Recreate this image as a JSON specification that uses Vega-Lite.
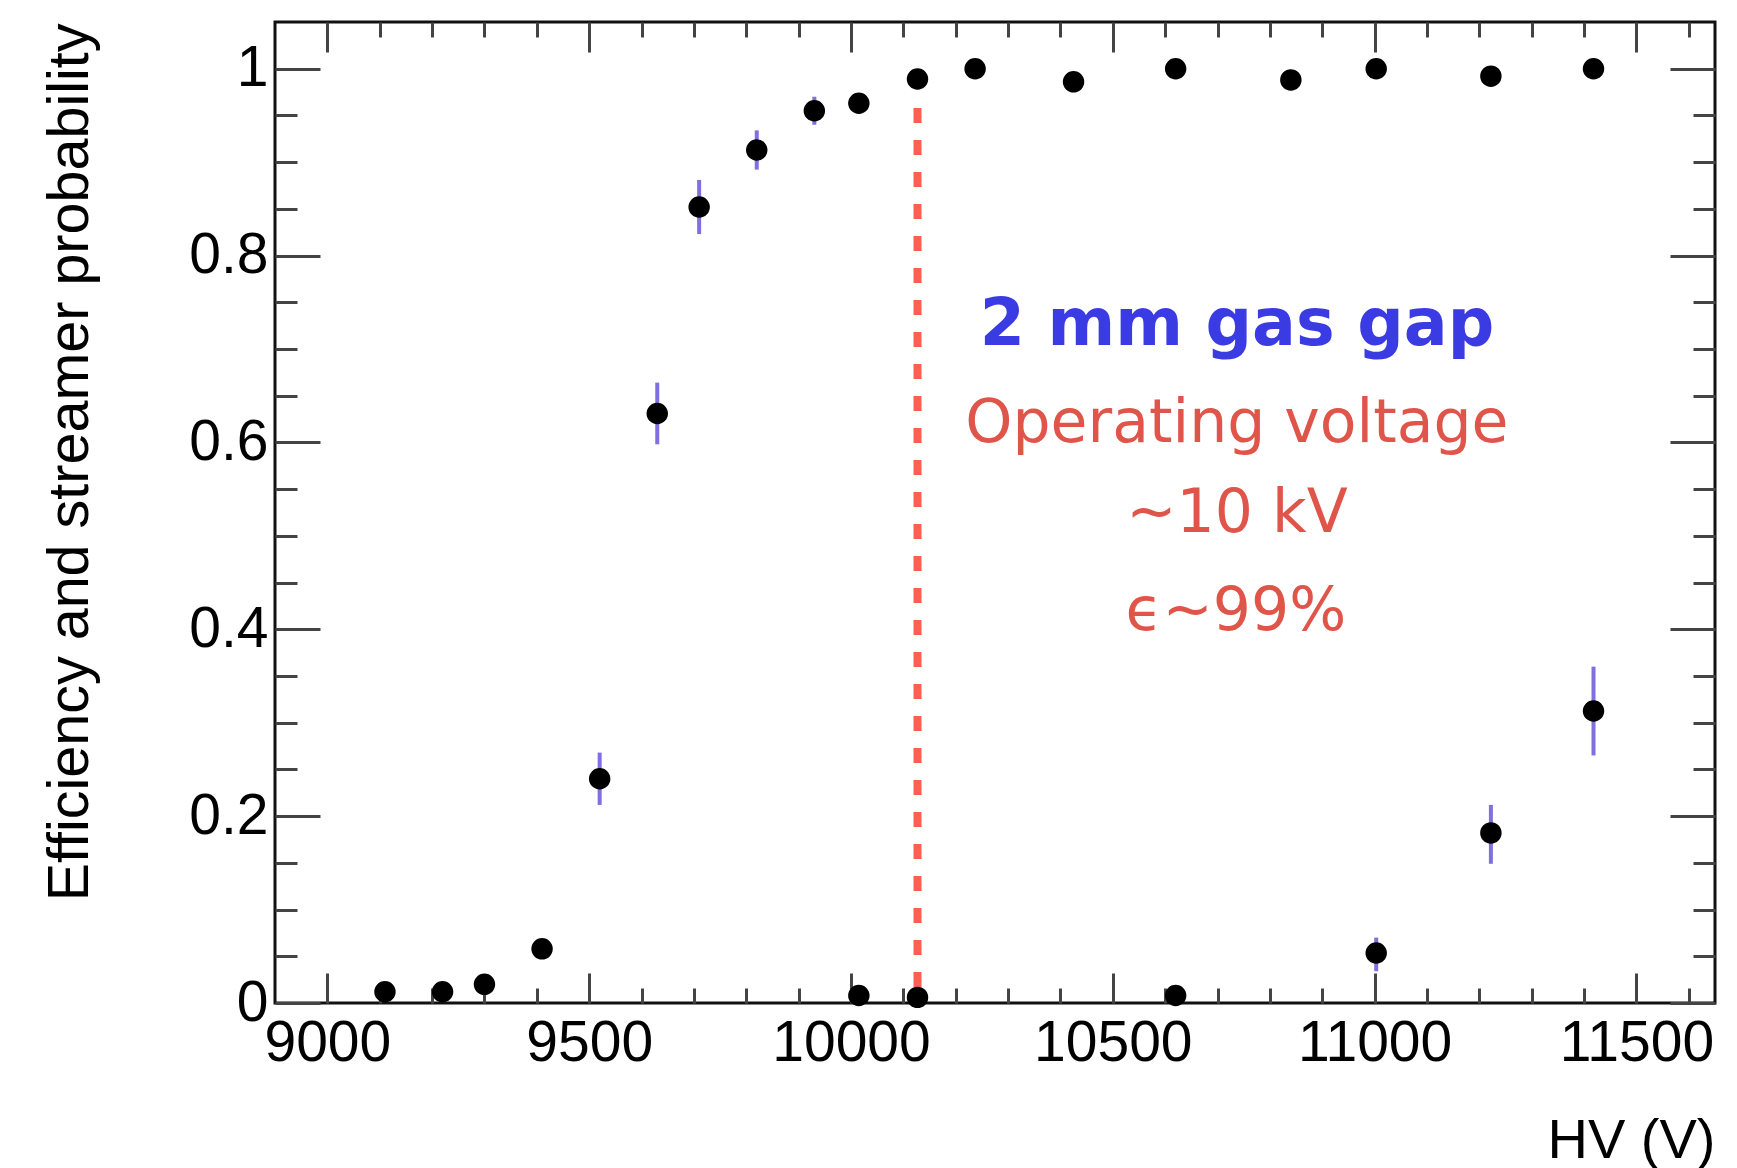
{
  "$schema": "https://vega.github.io/schema/vega-lite/v6.json",
  "width": 1440,
  "height": 981,
  "autosize": {"type": "none"},
  "padding": {"left": 275, "top": 22, "right": 22, "bottom": 165},
  "background": "white",
  "config": {
    "view": {"stroke": "#111111", "strokeWidth": 3},
    "axis": {"grid": false, "domain": false}
  },
  "datasets": {
    "points": [
      {"hv": 9110, "p": 0.012, "lo": null, "hi": null},
      {"hv": 9220, "p": 0.012, "lo": null, "hi": null},
      {"hv": 9300, "p": 0.020, "lo": null, "hi": null},
      {"hv": 9410, "p": 0.058, "lo": null, "hi": null},
      {"hv": 9520, "p": 0.240, "lo": 0.212, "hi": 0.268},
      {"hv": 9630, "p": 0.631, "lo": 0.598, "hi": 0.664},
      {"hv": 9710, "p": 0.852, "lo": 0.823, "hi": 0.881},
      {"hv": 9820, "p": 0.913, "lo": 0.892, "hi": 0.934},
      {"hv": 9930, "p": 0.955, "lo": 0.940, "hi": 0.970},
      {"hv": 10015, "p": 0.963, "lo": 0.955, "hi": 0.972},
      {"hv": 10127, "p": 0.989, "lo": null, "hi": null},
      {"hv": 10237, "p": 1.0, "lo": null, "hi": null},
      {"hv": 10425, "p": 0.986, "lo": null, "hi": null},
      {"hv": 10620, "p": 1.0, "lo": null, "hi": null},
      {"hv": 10840, "p": 0.988, "lo": null, "hi": null},
      {"hv": 11003, "p": 1.0, "lo": null, "hi": null},
      {"hv": 11222, "p": 0.992, "lo": null, "hi": null},
      {"hv": 11418, "p": 1.0, "lo": null, "hi": null},
      {"hv": 10015, "p": 0.008, "lo": null, "hi": null},
      {"hv": 10127, "p": 0.006, "lo": null, "hi": null},
      {"hv": 10620, "p": 0.008, "lo": null, "hi": null},
      {"hv": 11003, "p": 0.0535, "lo": 0.034, "hi": 0.070},
      {"hv": 11222, "p": 0.182, "lo": 0.149, "hi": 0.212},
      {"hv": 11418, "p": 0.3125, "lo": 0.265, "hi": 0.360}
    ],
    "vline": [{"hv": 10127, "top": 0.958, "bottom": 0}],
    "title": [{"hv": 10737, "p": 0.704, "label": "2 mm gas gap"}],
    "notes": [
      {"hv": 10737, "p": 0.600, "label": "Operating voltage"},
      {"hv": 10737, "p": 0.504, "label": "~10 kV"},
      {"hv": 10735, "p": 0.399, "label": "ϵ~99%"}
    ]
  },
  "layer": [
    {
      "data": {"name": "points"},
      "mark": {"type": "rule", "stroke": "#7F6FE0", "strokeWidth": 4},
      "encoding": {
        "x": {
          "field": "hv", "type": "quantitative",
          "scale": {"domain": [8900, 11650], "nice": false, "zero": false},
          "axis": {
            "orient": "bottom",
            "title": "HV (V)",
            "values": [9000,9100,9200,9300,9400,9500,9600,9700,9800,9900,10000,10100,10200,10300,10400,10500,10600,10700,10800,10900,11000,11100,11200,11300,11400,11500,11600],
            "tickSize": {"condition": {"test": "datum.value % 500 === 0", "value": -30}, "value": -15},
            "tickColor": "#444444",
            "tickWidth": 3,
            "format": "d",
            "labelExpr": "datum.value % 500 === 0 ? datum.label : ''",
            "labelFont": "Liberation Sans",
            "labelFontSize": 57,
            "labelColor": "#000000",
            "labelBaseline": "alphabetic",
            "labelPadding": 87,
            "labelFlush": false,
            "labelOverlap": false,
            "titleFont": "Liberation Sans",
            "titleFontSize": 56,
            "titleFontWeight": "normal",
            "titleColor": "#000000",
            "titleX": 1440,
            "titleY": 154,
            "titleAlign": "right",
            "titleBaseline": "alphabetic"
          }
        },
        "y": {
          "field": "lo", "type": "quantitative",
          "scale": {"domain": [0, 1.05], "nice": false, "zero": false},
          "axis": {
            "orient": "left",
            "title": "Efficiency and streamer probability",
            "values": [0,0.05,0.1,0.15,0.2,0.25,0.3,0.35,0.4,0.45,0.5,0.55,0.6,0.65,0.7,0.75,0.8,0.85,0.9,0.95,1],
            "tickSize": {"condition": {"test": "abs(datum.value*5 - round(datum.value*5)) < 0.001", "value": -45}, "value": -22},
            "tickColor": "#444444",
            "tickWidth": 3,
            "labelExpr": "abs(datum.value*5 - round(datum.value*5)) < 0.001 ? format(datum.value, '~g') : ''",
            "labelFont": "Liberation Sans",
            "labelFontSize": 57,
            "labelColor": "#000000",
            "labelAlign": "right",
            "labelBaseline": "middle",
            "labelPadding": 52,
            "labelFlush": false,
            "labelOverlap": false,
            "titleFont": "Liberation Sans",
            "titleFontSize": 57.5,
            "titleFontWeight": "normal",
            "titleColor": "#000000",
            "titleAngle": 270,
            "titleX": -188,
            "titleY": 1,
            "titleAlign": "right",
            "titleBaseline": "alphabetic"
          }
        },
        "y2": {"field": "hi"}
      }
    },
    {
      "data": {"name": "vline"},
      "mark": {"type": "rule", "stroke": "#FF5E55", "strokeWidth": 8, "strokeDash": [15, 17]},
      "encoding": {
        "x": {"field": "hv", "type": "quantitative", "scale": {"domain": [8900, 11650], "nice": false, "zero": false}, "axis": null},
        "y": {"field": "top", "type": "quantitative", "scale": {"domain": [0, 1.05], "nice": false, "zero": false}, "axis": null},
        "y2": {"field": "bottom"}
      }
    },
    {
      "data": {"name": "points"},
      "mark": {"type": "circle", "color": "#000000", "opacity": 1, "size": 460},
      "encoding": {
        "x": {
          "field": "hv", "type": "quantitative",
          "scale": {"domain": [8900, 11650], "nice": false, "zero": false},
          "axis": {
            "orient": "top",
            "title": null,
            "labels": false,
            "values": [9000,9100,9200,9300,9400,9500,9600,9700,9800,9900,10000,10100,10200,10300,10400,10500,10600,10700,10800,10900,11000,11100,11200,11300,11400,11500,11600],
            "tickSize": {"condition": {"test": "datum.value % 500 === 0", "value": -30}, "value": -15},
            "tickColor": "#444444",
            "tickWidth": 3
          }
        },
        "y": {
          "field": "p", "type": "quantitative",
          "scale": {"domain": [0, 1.05], "nice": false, "zero": false},
          "axis": {
            "orient": "right",
            "title": null,
            "labels": false,
            "values": [0,0.05,0.1,0.15,0.2,0.25,0.3,0.35,0.4,0.45,0.5,0.55,0.6,0.65,0.7,0.75,0.8,0.85,0.9,0.95,1],
            "tickSize": {"condition": {"test": "abs(datum.value*5 - round(datum.value*5)) < 0.001", "value": -45}, "value": -22},
            "tickColor": "#444444",
            "tickWidth": 3
          }
        }
      }
    },
    {
      "data": {"name": "title"},
      "mark": {"type": "text", "font": "DejaVu Sans", "fontSize": 65, "fontWeight": "bold", "fill": "#3B3BE3", "align": "center", "baseline": "alphabetic"},
      "encoding": {
        "x": {"field": "hv", "type": "quantitative", "scale": {"domain": [8900, 11650], "nice": false, "zero": false}, "axis": null},
        "y": {"field": "p", "type": "quantitative", "scale": {"domain": [0, 1.05], "nice": false, "zero": false}, "axis": null},
        "text": {"field": "label"}
      }
    },
    {
      "data": {"name": "notes"},
      "mark": {"type": "text", "font": "DejaVu Sans", "fontSize": 60, "fontWeight": "normal", "fill": "#E0554A", "align": "center", "baseline": "alphabetic"},
      "encoding": {
        "x": {"field": "hv", "type": "quantitative", "scale": {"domain": [8900, 11650], "nice": false, "zero": false}, "axis": null},
        "y": {"field": "p", "type": "quantitative", "scale": {"domain": [0, 1.05], "nice": false, "zero": false}, "axis": null},
        "text": {"field": "label"}
      }
    }
  ],
  "resolve": {"axis": {"x": "independent", "y": "independent"}}
}
